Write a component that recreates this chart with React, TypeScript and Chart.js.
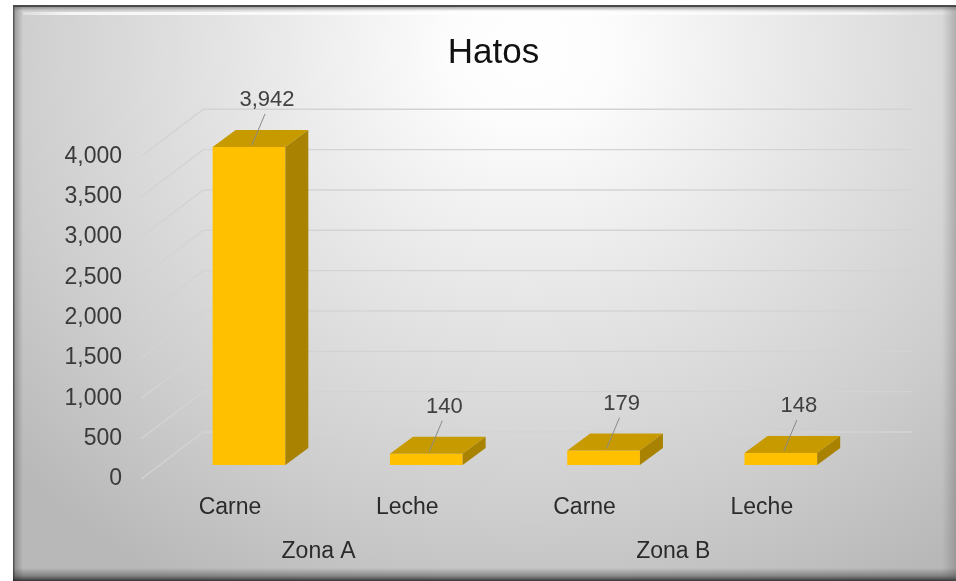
import { useEffect, useRef } from 'react';
import { Chart, registerables } from 'chart.js';

Chart.register(...registerables);

const chartTitle = 'Hatos';
const categories = ['Carne', 'Leche', 'Carne', 'Leche'];
const zones = ['Zona A', 'Zona B'];
const hatos = [3942, 140, 179, 148];
const yMin = 0;
const yMax = 4000;
const yStep = 500;

const FONT = '"Liberation Sans", Arial, Helvetica, sans-serif';
const FRONT_COLOR = '#FFC000';
const TOP_COLOR = '#C79A00';
const SIDE_COLOR = '#A88200';
const GRID_COLOR = '#D3D3D3';

// 3D offsets relative to chart area (bar front plane)
const FRONT = { dx: -19, dy: 14 };
const BACK = { dx: 43, dy: -33 };
const DEPTH = { dx: 23, dy: -17 };
const TITLE_CENTER_X = 493.5;

const backgroundPlugin = {
  id: 'bgFrame',
  afterLayout(chart: any) {
    const tb = chart.titleBlock;
    if (tb) {
      const shift = TITLE_CENTER_X - (tb.left + tb.right) / 2;
      tb.left += shift;
      tb.right += shift;
    }
  },
  beforeDraw(chart: any) {
    const { ctx, width, height } = chart;
    ctx.save();
    ctx.fillStyle = '#ffffff';
    ctx.fillRect(0, 0, width, height);
    const x0 = 13, y0 = 6;
    const w = width - x0, h = height - y0;
    const cx = 530, cy = 50, rx = 700, ry = 620;
    ctx.save();
    ctx.beginPath();
    ctx.rect(x0, y0, w, h);
    ctx.clip();
    ctx.translate(cx, cy);
    ctx.scale(1, ry / rx);
    const g = ctx.createRadialGradient(0, 0, 0, 0, 0, rx);
    g.addColorStop(0, '#ffffff');
    g.addColorStop(0.12, '#fcfcfc');
    g.addColorStop(0.45, '#e3e3e3');
    g.addColorStop(0.75, '#cdcdcd');
    g.addColorStop(1, '#b8b8b8');
    ctx.fillStyle = g;
    ctx.fillRect(x0 - cx, (y0 - cy) * rx / ry, w, h * rx / ry);
    ctx.restore();

    // left bevel shadow
    const lg = ctx.createLinearGradient(x0, 0, x0 + 10, 0);
    lg.addColorStop(0, 'rgba(40,40,40,0.85)');
    lg.addColorStop(0.25, 'rgba(60,60,60,0.3)');
    lg.addColorStop(1, 'rgba(60,60,60,0)');
    ctx.fillStyle = lg;
    ctx.fillRect(x0, y0, 10, h);
    // bottom bevel shadow
    const bg = ctx.createLinearGradient(0, height - 13, 0, height);
    bg.addColorStop(0, 'rgba(50,50,50,0)');
    bg.addColorStop(0.6, 'rgba(50,50,50,0.4)');
    bg.addColorStop(1, 'rgba(30,30,30,0.85)');
    ctx.fillStyle = bg;
    ctx.fillRect(x0, height - 13, w, 13);
    // top dark line
    ctx.fillStyle = '#4a4a4a';
    ctx.fillRect(x0, y0 - 1, w, 2);
    const tg = ctx.createLinearGradient(0, y0 + 1, 0, y0 + 5);
    tg.addColorStop(0, 'rgba(90,90,90,0.5)');
    tg.addColorStop(1, 'rgba(90,90,90,0)');
    ctx.fillStyle = tg;
    ctx.fillRect(x0, y0 + 1, w, 4);
    // top highlight
    const hg = ctx.createLinearGradient(x0 + 10, 0, width, 0);
    hg.addColorStop(0, 'rgba(255,255,255,0.3)');
    hg.addColorStop(0.05, 'rgba(255,255,255,0.8)');
    hg.addColorStop(0.9, 'rgba(255,255,255,0.6)');
    hg.addColorStop(1, 'rgba(255,255,255,0.1)');
    ctx.fillStyle = hg;
    ctx.fillRect(x0 + 10, y0 + 6, w - 14, 3);
    // right edge darkening
    const rg = ctx.createLinearGradient(width - 14, 0, width, 0);
    rg.addColorStop(0, 'rgba(80,80,80,0)');
    rg.addColorStop(1, 'rgba(80,80,80,0.3)');
    ctx.fillStyle = rg;
    ctx.fillRect(width - 14, y0, 14, h);
    ctx.restore();
  },
};

const wallsPlugin = {
  id: 'walls3d',
  beforeDatasetsDraw(chart: any) {
    const { ctx, chartArea: a } = chart;
    const y = chart.scales.y;
    ctx.save();
    ctx.strokeStyle = GRID_COLOR;
    ctx.lineWidth = 1.4;
    y.ticks.forEach((t: any) => {
      const py = y.getPixelForValue(t.value);
      ctx.beginPath();
      ctx.moveTo(a.left + FRONT.dx, py + FRONT.dy);
      ctx.lineTo(a.left + BACK.dx, py + BACK.dy);
      ctx.lineTo(a.right + BACK.dx, py + BACK.dy);
      ctx.stroke();
    });
    ctx.restore();
  },
};

const bars3dPlugin = {
  id: 'bars3d',
  afterDatasetsDraw(chart: any) {
    const { ctx } = chart;
    const meta = chart.getDatasetMeta(0);
    const values = chart.data.datasets[0].data as number[];
    ctx.save();
    meta.data.forEach((bar: any, i: number) => {
      const { x, y, base, width } = bar.getProps(['x', 'y', 'base', 'width'], true);
      const l = x - width / 2;
      const r = x + width / 2;
      ctx.fillStyle = TOP_COLOR;
      ctx.beginPath();
      ctx.moveTo(l, y);
      ctx.lineTo(r, y);
      ctx.lineTo(r + DEPTH.dx, y + DEPTH.dy);
      ctx.lineTo(l + DEPTH.dx, y + DEPTH.dy);
      ctx.closePath();
      ctx.fill();
      ctx.fillStyle = SIDE_COLOR;
      ctx.beginPath();
      ctx.moveTo(r, y);
      ctx.lineTo(r + DEPTH.dx, y + DEPTH.dy);
      ctx.lineTo(r + DEPTH.dx, base + DEPTH.dy);
      ctx.lineTo(r, base);
      ctx.closePath();
      ctx.fill();

      const lx = x + 18;
      const ly = y - 47;
      ctx.strokeStyle = '#8a8a8a';
      ctx.lineWidth = 1;
      ctx.beginPath();
      ctx.moveTo(lx - 2, ly + 14);
      ctx.lineTo(x + 3, y - 2);
      ctx.stroke();
      ctx.fillStyle = '#404040';
      ctx.font = `22px ${FONT}`;
      ctx.textAlign = 'center';
      ctx.textBaseline = 'middle';
      ctx.fillText(values[i].toLocaleString('en-US'), lx, ly);
    });
    ctx.restore();
  },
};

export default function App() {
  const canvasRef = useRef<HTMLCanvasElement | null>(null);

  useEffect(() => {
    document.body.style.margin = '0';
    const canvas = canvasRef.current;
    if (!canvas) return;
    const chart = new Chart(canvas, {
      type: 'bar',
      data: {
        labels: categories,
        datasets: [
          {
            label: chartTitle,
            data: hatos,
            backgroundColor: FRONT_COLOR,
            borderWidth: 0,
            barPercentage: 0.41,
            categoryPercentage: 1,
          },
        ],
      },
      options: {
        responsive: false,
        animation: false,
        devicePixelRatio: 1,
        layout: { padding: { left: 0, right: 86.5, top: 0, bottom: 16.2 } },
        plugins: {
          legend: { display: false },
          tooltip: { enabled: false },
          title: {
            display: true,
            text: chartTitle,
            color: '#111111',
            font: { family: FONT, size: 35, weight: 'normal' },
            padding: { top: 32, bottom: 68.3 },
          },
        },
        scales: {
          x: {
            type: 'category',
            position: 'bottom',
            offset: true,
            grid: { display: false, drawTicks: false },
            border: { display: false },
            afterFit: (s: any) => {
              s.height = 55.6;
            },
            ticks: {
              color: '#2b2b2b',
              font: { family: FONT, size: 23 },
              padding: 29,
              labelOffset: -19,
              maxRotation: 0,
              autoSkip: false,
            },
          },
          x2: {
            type: 'category',
            position: 'bottom',
            labels: zones,
            offset: true,
            grid: { display: false, drawTicks: false },
            border: { display: false },
            afterFit: (s: any) => {
              s.height = 44.2;
            },
            ticks: {
              color: '#2b2b2b',
              font: { family: FONT, size: 23 },
              padding: 17,
              labelOffset: -19,
              maxRotation: 0,
              autoSkip: false,
            },
          },
          y: {
            min: yMin,
            max: yMax,
            grid: { display: false, drawTicks: false },
            border: { display: false },
            afterFit: (s: any) => {
              s.width = 160.35;
            },
            ticks: {
              stepSize: yStep,
              color: '#3a3a3a',
              font: { family: FONT, size: 23 },
              padding: 38.35,
              labelOffset: 14,
              callback: (v: any) => Number(v).toLocaleString('en-US'),
            },
          },
        },
      },
      plugins: [backgroundPlugin, wallsPlugin, bars3dPlugin],
    });
    return () => chart.destroy();
  }, []);

  return (
    <div style={{ width: 956, height: 581 }}>
      <canvas ref={canvasRef} width={956} height={581} style={{ display: 'block' }} />
    </div>
  );
}
